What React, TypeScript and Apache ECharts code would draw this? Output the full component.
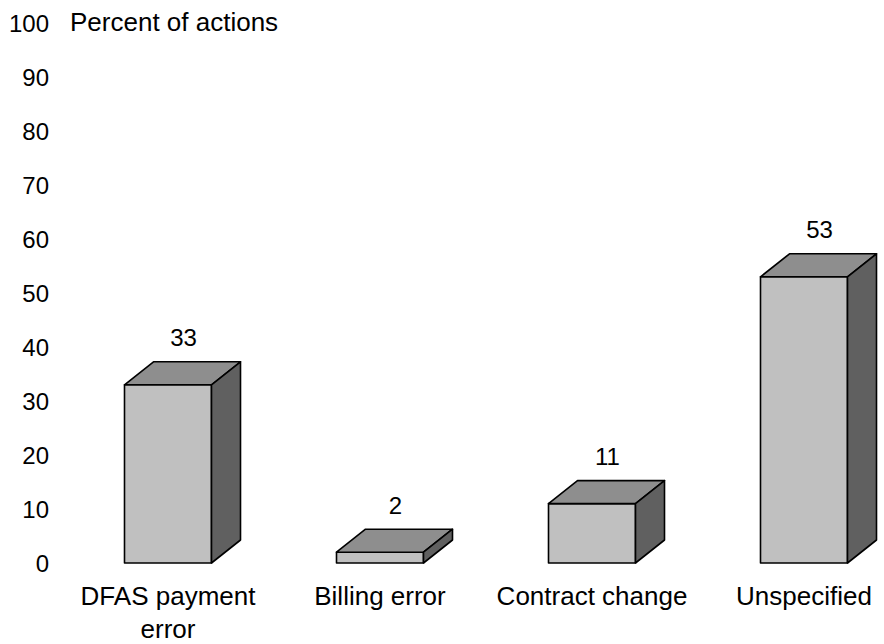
import React, { useEffect, useRef } from "react";
import * as echarts from "echarts";

const categories = ["DFAS payment\nerror", "Billing error", "Contract change", "Unspecified"];
const percents = [33, 2, 11, 53];
const yTicks = { min: 0, max: 100, interval: 10 };
const yTitle = "Percent of actions";

const FONT = '"Liberation Sans", Arial, Helvetica, sans-serif';

export default function App() {
  const ref = useRef<HTMLDivElement>(null);
  useEffect(() => {
    if (!ref.current) return;
    const chart = echarts.init(ref.current, undefined, { renderer: "svg" });
    const hw = 43.5;
    const dx = 29;
    const dy = 23;
    chart.setOption({
      animation: false,
      backgroundColor: "#ffffff",
      grid: { left: 168, right: 80, top: 23, bottom: 81, containLabel: false, outerBoundsMode: "none" },
      xAxis: {
        type: "category",
        data: categories,
        boundaryGap: false,
        axisLine: { show: false },
        axisTick: { show: false },
        splitLine: { show: false },
        axisLabel: {
          margin: 16,
          fontSize: 26,
          fontFamily: FONT,
          color: "#000",
          lineHeight: 33,
          interval: 0,
        },
      },
      yAxis: {
        type: "value",
        min: yTicks.min,
        max: yTicks.max,
        interval: yTicks.interval,
        axisLine: { show: false },
        axisTick: { show: false },
        splitLine: { show: false },
        axisLabel: { margin: 119, fontSize: 24, fontFamily: FONT, color: "#000" },
      },
      graphic: [
        {
          type: "text",
          left: 70,
          top: 9,
          style: { text: yTitle, font: `26px ${FONT}`, fill: "#000" },
        },
      ],
      series: [
        {
          type: "custom",
          clip: false,
          data: percents.map((v, i) => [i, v]),
          renderItem: (params: any, api: any) => {
            const i = api.value(0);
            const v = api.value(1);
            const top = api.coord([i, v]);
            const base = api.coord([i, 0]);
            const x0 = top[0] - hw;
            const x1 = top[0] + hw;
            const yT = top[1];
            const yB = base[1];
            const stroke = { stroke: "#000", lineWidth: 1.6, lineJoin: "round" };
            return {
              type: "group",
              children: [
                {
                  type: "polygon",
                  shape: { points: [[x0, yB], [x1, yB], [x1, yT], [x0, yT]] },
                  style: { fill: "#c0c0c0", ...stroke },
                },
                {
                  type: "polygon",
                  shape: { points: [[x0, yT], [x1, yT], [x1 + dx, yT - dy], [x0 + dx, yT - dy]] },
                  style: { fill: "#8e8e8e", ...stroke },
                },
                {
                  type: "polygon",
                  shape: { points: [[x1, yB], [x1 + dx, yB - dy], [x1 + dx, yT - dy], [x1, yT]] },
                  style: { fill: "#606060", ...stroke },
                },
                {
                  type: "text",
                  style: {
                    text: String(v),
                    x: top[0] + dx / 2 + 1,
                    y: yT - dy - 24,
                    align: "center",
                    verticalAlign: "middle",
                    font: `24px ${FONT}`,
                    fill: "#000",
                  },
                },
              ],
            };
          },
        },
      ],
    });
    return () => chart.dispose();
  }, []);
  return <div ref={ref} style={{ position: "fixed", left: 0, top: 0, width: 884, height: 644 }} />;
}
